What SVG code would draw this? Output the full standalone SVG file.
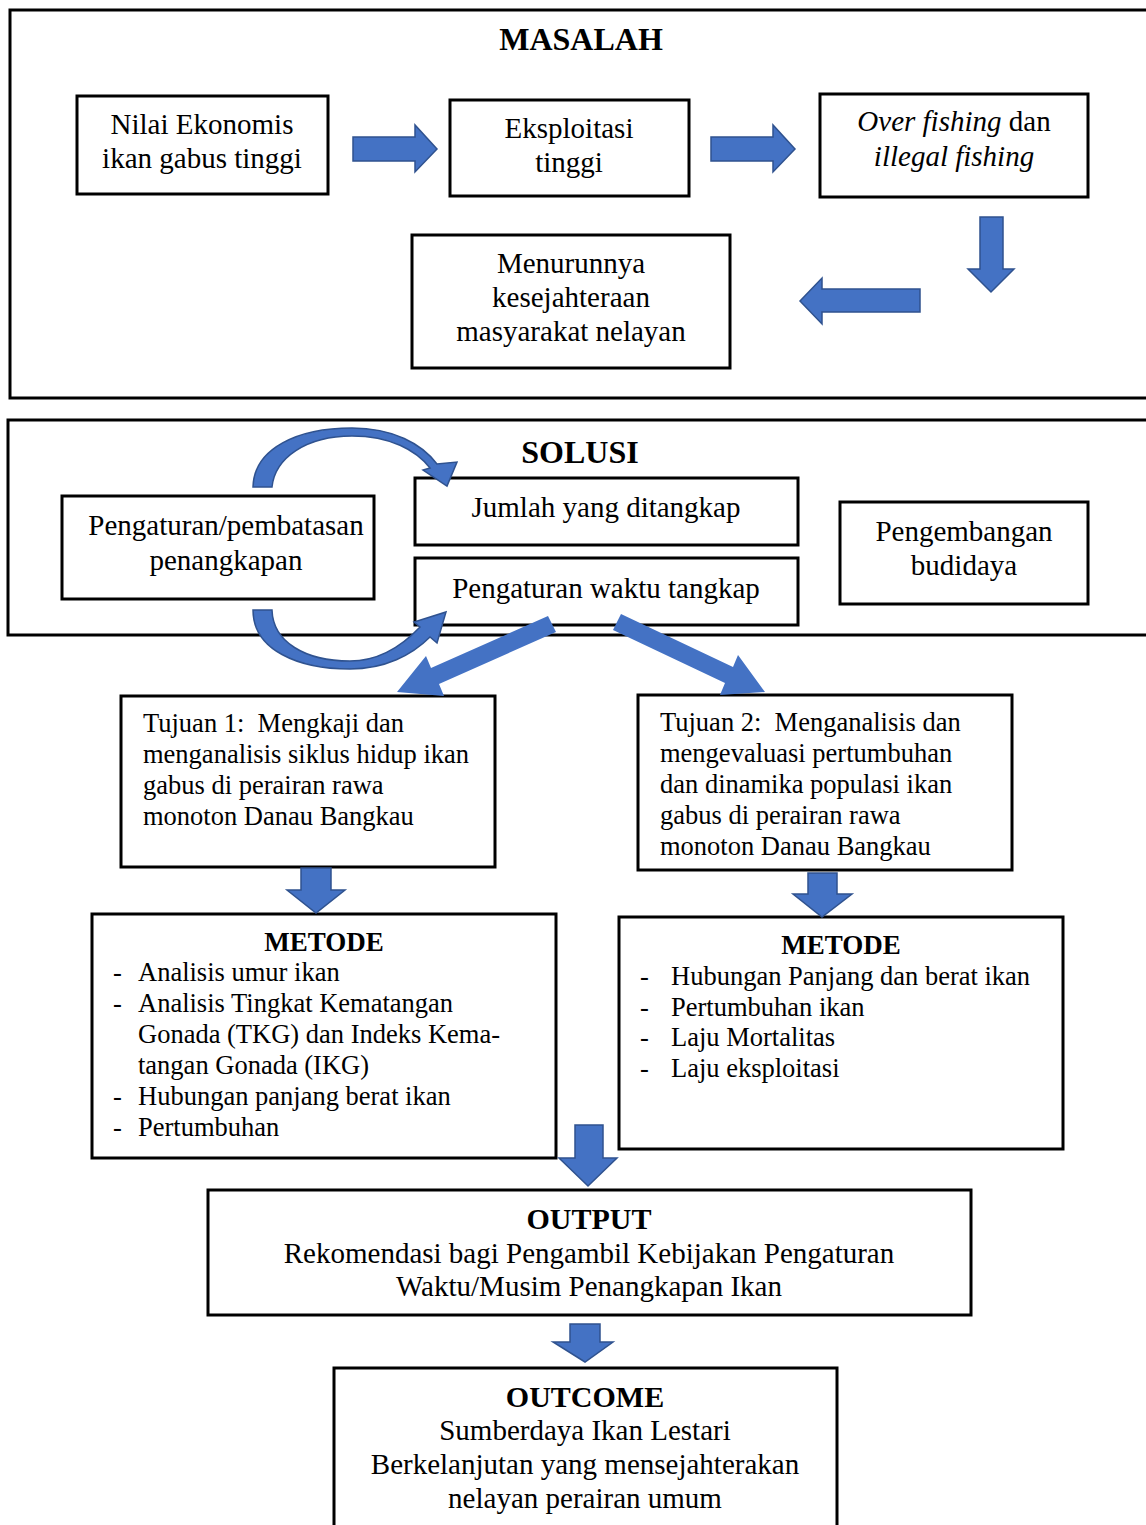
<svg xmlns="http://www.w3.org/2000/svg" width="1146" height="1525" viewBox="0 0 1146 1525">
<style>
.box{fill:#fff;stroke:#000;stroke-width:3}
.frame{fill:none;stroke:#000;stroke-width:3}
.arr{fill:#4472C4;stroke:#2F528F;stroke-width:1.5}
.arrf{fill:#4472C4}
text{font-family:"Liberation Serif","Times New Roman",serif;fill:#000}
.t{font-size:29px;text-anchor:middle}
.s{font-size:26.5px}
.h{font-size:32px;font-weight:bold;text-anchor:middle}
.h2{font-size:27px;font-weight:bold;text-anchor:middle}
.h3{font-size:30px;font-weight:bold;text-anchor:middle}
</style>
<rect width="1146" height="1525" fill="#fff"/>
<g id="masalah-frame">
<rect class="frame" x="10" y="10" width="1140" height="388"/>
<text class="h" x="581" y="50">MASALAH</text>
</g>
<g id="solusi-frame">
<rect class="frame" x="8" y="420" width="1142" height="215"/>
<text class="h" x="580" y="463">SOLUSI</text>
</g>
<g id="n1"><rect class="box" x="77" y="96" width="251" height="98"/>
<text class="t" x="202" y="134">Nilai Ekonomis</text><text class="t" x="202" y="168">ikan gabus tinggi</text></g>
<g id="n2"><rect class="box" x="450" y="100" width="239" height="96"/>
<text class="t" x="569" y="138">Eksploitasi</text><text class="t" x="569" y="172">tinggi</text></g>
<g id="n3"><rect class="box" x="820" y="94" width="268" height="103"/>
<text class="t" x="954" y="131"><tspan font-style="italic">Over fishing</tspan> dan</text><text class="t" x="954" y="166" font-style="italic">illegal fishing</text></g>
<g id="n4"><rect class="box" x="412" y="235" width="318" height="133"/>
<text class="t" x="571" y="273">Menurunnya</text><text class="t" x="571" y="307">kesejahteraan</text><text class="t" x="571" y="341">masyarakat nelayan</text></g>
<g id="n5"><rect class="box" x="62" y="496" width="312" height="103"/>
<text class="t" x="226" y="535">Pengaturan/pembatasan</text><text class="t" x="226" y="570">penangkapan</text></g>
<g id="n6"><rect class="box" x="415" y="478" width="383" height="67"/>
<text class="t" x="606" y="517">Jumlah yang ditangkap</text></g>
<g id="n7"><rect class="box" x="415" y="558" width="383" height="67"/>
<text class="t" x="606" y="598">Pengaturan waktu tangkap</text></g>
<g id="n8"><rect class="box" x="840" y="502" width="248" height="102"/>
<text class="t" x="964" y="541">Pengembangan</text><text class="t" x="964" y="575">budidaya</text></g>
<g id="n9"><rect class="box" x="121" y="696" width="374" height="171"/>
<text class="s" x="143" y="732">Tujuan 1:&#160; Mengkaji dan</text>
<text class="s" x="143" y="763">menganalisis siklus hidup ikan</text>
<text class="s" x="143" y="794">gabus di perairan rawa</text>
<text class="s" x="143" y="825">monoton Danau Bangkau</text></g>
<g id="n10"><rect class="box" x="638" y="695" width="374" height="175"/>
<text class="s" x="660" y="731">Tujuan 2:&#160; Menganalisis dan</text>
<text class="s" x="660" y="762">mengevaluasi pertumbuhan</text>
<text class="s" x="660" y="793">dan dinamika populasi ikan</text>
<text class="s" x="660" y="824">gabus di perairan rawa</text>
<text class="s" x="660" y="855">monoton Danau Bangkau</text></g>
<g id="n11"><rect class="box" x="92" y="914" width="464" height="244"/>
<text class="h2" x="324" y="951">METODE</text>
<text class="s" x="113" y="981">-</text><text class="s" x="138" y="981">Analisis umur ikan</text>
<text class="s" x="113" y="1012">-</text><text class="s" x="138" y="1012">Analisis Tingkat Kematangan</text>
<text class="s" x="138" y="1043">Gonada (TKG) dan Indeks Kema-</text>
<text class="s" x="138" y="1074">tangan Gonada (IKG)</text>
<text class="s" x="113" y="1105">-</text><text class="s" x="138" y="1105">Hubungan panjang berat ikan</text>
<text class="s" x="113" y="1136">-</text><text class="s" x="138" y="1136">Pertumbuhan</text></g>
<g id="n12"><rect class="box" x="619" y="917" width="444" height="232"/>
<text class="h2" x="841" y="954">METODE</text>
<text class="s" x="640" y="985">-</text><text class="s" x="671" y="985">Hubungan Panjang dan berat ikan</text>
<text class="s" x="640" y="1016">-</text><text class="s" x="671" y="1016">Pertumbuhan ikan</text>
<text class="s" x="640" y="1046">-</text><text class="s" x="671" y="1046">Laju Mortalitas</text>
<text class="s" x="640" y="1077">-</text><text class="s" x="671" y="1077">Laju eksploitasi</text></g>
<g id="n13"><rect class="box" x="208" y="1190" width="763" height="125"/>
<text class="h3" x="589" y="1229">OUTPUT</text>
<text class="t" x="589" y="1263">Rekomendasi bagi Pengambil Kebijakan Pengaturan</text>
<text class="t" x="589" y="1296">Waktu/Musim Penangkapan Ikan</text></g>
<g id="n14"><rect class="box" x="334" y="1368" width="503" height="160"/>
<text class="h3" x="585" y="1407">OUTCOME</text>
<text class="t" x="585" y="1440">Sumberdaya Ikan Lestari</text>
<text class="t" x="585" y="1474">Berkelanjutan yang mensejahterakan</text>
<text class="t" x="585" y="1508">nelayan perairan umum</text></g>
<g id="connectors">
<polygon class="arr" points="353,137 415,137 415,125 437,149 415,172 415,161 353,161"/>
<polygon class="arr" points="711,137 773,137 773,125 795,149 773,172 773,161 711,161"/>
<polygon class="arr" points="980,217 1003,217 1003,269 1014,269 991,292 968,269 980,269"/>
<polygon class="arr" points="920,289 822,289 822,278 800,301 822,324 822,312 920,312"/>
<path class="arr" d="M253,487 C254,448 298,428 352,428 C393,428 422,444 437,464 L457,462 L447,486 L423,470 L430,468 C416,450 390,436 352,436 C306,436 275,458 272,487 Z"/>
<path class="arr" d="M253,610 C253,650 298,669 350,669 C385,669 412,655 430,637 L437,643 L446,612 L414,622 L420,627 C402,646 378,661 350,661 C305,661 273,642 272,610 Z"/>
<polygon class="arrf" points="548,616 556,632 439,684 444,696 397,692 426,656 431,668"/>
<polygon class="arrf" points="621,614 733,667 738,655 765,692 720,695 725,683 613,630"/>
<polygon class="arr" points="301,868 331,868 331,890 345,890 316,913 287,890 301,890"/>
<polygon class="arr" points="808,873 837,873 837,894 852,894 822,917 793,894 808,894"/>
<polygon class="arr" points="575,1125 603,1125 603,1158 617,1158 588,1186 559,1158 575,1158"/>
<polygon class="arr" points="570,1324 600,1324 600,1342 613,1342 585,1362 553,1342 570,1342"/>
</g>
</svg>
